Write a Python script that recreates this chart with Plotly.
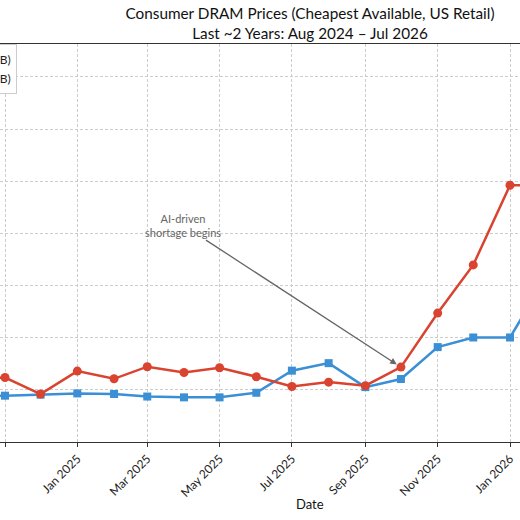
import pandas as pd
import plotly.graph_objects as go

# monthly cheapest-available prices, Aug 2024 .. Jul 2026
months = pd.date_range("2024-08-01", periods=24, freq="MS")

ddr4_name = "DDR4 (16GB)"
ddr4 = [23.5, 22.8, 22.4, 22.2, 22.7, 23.3, 23.0, 21.8, 21.4, 21.4, 23.6, 34.2,
        37.8, 26.3, 30.2, 45.5, 50.1, 50.1, 79.7, 95.0, 105.0, 110.0, 112.0, 115.0]

ddr5_name = "DDR5 (32GB)"
ddr5 = [32.0, 31.5, 30.5, 30.9, 23.0, 34.0, 30.3, 36.1, 33.3, 35.6, 31.3, 26.6,
        28.7, 27.0, 35.9, 61.8, 84.9, 123.1, 123.2, 150.0, 165.0, 175.0, 180.0, 182.0]

event_month = "2025-10-01"
event_text = "AI-driven<br>shortage begins"

red = "#d9432f"
blue = "#3a8fd5"

fig = go.Figure()
fig.add_trace(go.Scatter(x=months, y=ddr4, name=ddr4_name, mode="lines+markers",
                         line=dict(color=blue, width=2.5),
                         marker=dict(symbol="square", size=8, color=blue)))
fig.add_trace(go.Scatter(x=months, y=ddr5, name=ddr5_name, mode="lines+markers",
                         line=dict(color=red, width=2.5),
                         marker=dict(symbol="circle", size=9, color=red)))

ev_idx = list(months.strftime("%Y-%m-%d")).index(event_month)
fig.add_annotation(x=event_month, y=ddr5[ev_idx], text=event_text,
                   showarrow=True, arrowhead=2, arrowsize=1, arrowwidth=1.3,
                   arrowcolor="#666666", standoff=5, ax=-218, ay=-142,
                   font=dict(size=11, color="#666666"))
# x-axis label, centred on the full figure's plot area
fig.add_annotation(x=310 / 520, y=-62 / 398, xref="paper", yref="paper",
                   text="Date", showarrow=False, yanchor="middle",
                   font=dict(size=13, color="#111111"))

fig.update_layout(
    width=520, height=520,
    margin=dict(l=0, r=0, t=44, b=78, autoexpand=False),
    paper_bgcolor="white", plot_bgcolor="white",
    font=dict(family="Lato", color="#222222"),
    title=dict(text="Consumer DRAM Prices (Cheapest Available, US Retail)<br>"
                    "Last ~2 Years: Aug 2024 \u2013 Jul 2026",
               x=310 / 520, xanchor="center", y=0.964, yanchor="top",
               font=dict(size=15.3, color="#111111")),
    legend=dict(x=17 / 520, xanchor="right", y=1.0, yanchor="top",
                bordercolor="#cccccc", borderwidth=1, bgcolor="white",
                font=dict(size=12)),
    showlegend=True,
)
fig.update_xaxes(range=["2024-10-27 18:40", "2026-01-09 10:30"],
                 dtick="M2", tick0="2024-11-01", tickformat="%b %Y", tickangle=-45,
                 tickfont=dict(size=12),
                 ticks="outside", ticklen=4, tickcolor="#333333",
                 showline=True, mirror=True, linecolor="#333333", linewidth=1.2,
                 showgrid=True, gridcolor="#cccccc", griddash="3px,2px", gridwidth=1)
fig.update_yaxes(range=[0, 190.8], dtick=25, showticklabels=False,
                 showline=False, zeroline=False,
                 showgrid=True, gridcolor="#cccccc", griddash="3px,2px", gridwidth=1)

fig.write_html("out.html", config={"displayModeBar": False},
               post_script="document.body.style.margin = '0';")
